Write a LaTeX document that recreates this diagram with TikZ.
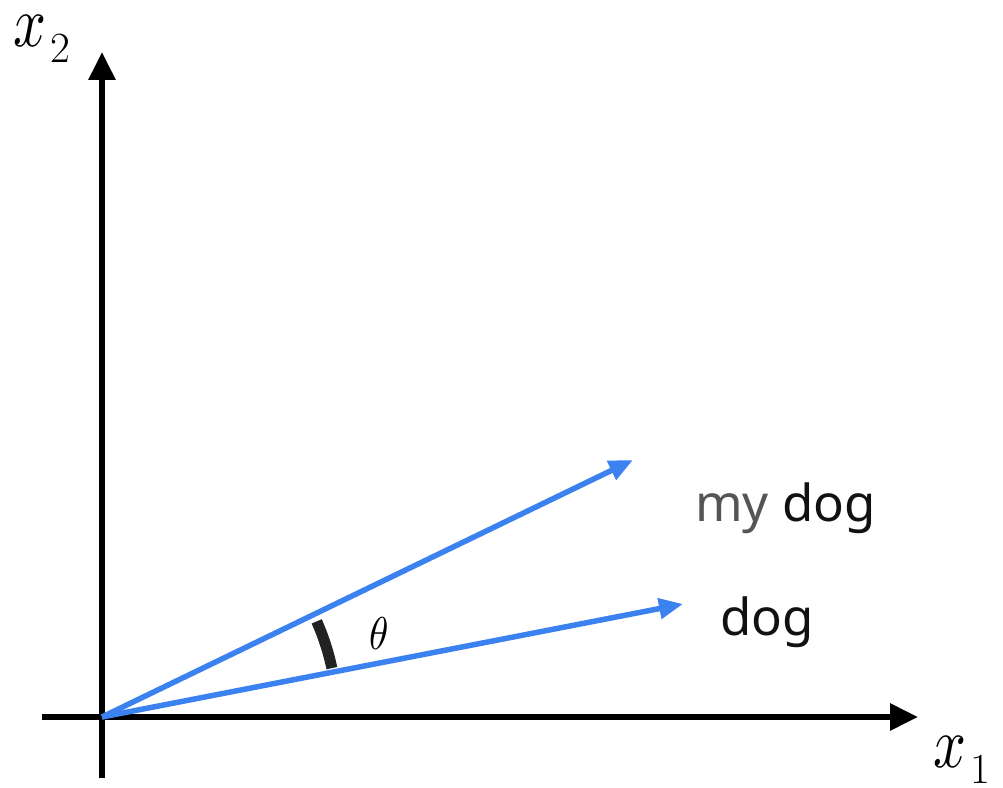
\documentclass[tikz,border=0pt]{standalone}
\usepackage{fontspec}
\usepackage{unicode-math}
\setmathfont{Latin Modern Math}
\setsansfont{Noto Sans}
\usetikzlibrary{arrows.meta}
\definecolor{vecblue}{HTML}{3B82F0}
\definecolor{mygray}{HTML}{555555}
\definecolor{txt}{HTML}{111111}
\definecolor{arcc}{HTML}{222222}
\newcommand{\axvar}[1]{\scalebox{0.8}[1]{\fontsize{72}{76}\selectfont$x$}\hspace{4pt}\raisebox{-16pt}{\fontsize{43}{46}\selectfont\rmfamily #1}}
\tikzset{
  axis/.style={line width=6pt, -{Triangle[length=28pt,width=26pt]}},
  vec/.style={vecblue, line width=5.5pt, -{Triangle[length=24pt,width=20pt]}},
  word/.style={font=\sffamily\fontsize{51}{55}\selectfont, inner sep=0pt, anchor=base west, text=txt},
  axlabel/.style={inner sep=0pt, anchor=base west},
}
\begin{document}
\begin{tikzpicture}[x=1pt,y=1pt]
\useasboundingbox (0,0) rectangle (1003,787);
\coordinate (O) at (102,70);
\coordinate (xs) at (42,70);
\coordinate (xe) at (918,70);
\coordinate (ys) at (102,9);
\coordinate (ye) at (102,735);
\coordinate (md) at (633,327);
\coordinate (dg) at (683,183);
\draw[axis] (xs) -- (xe);
\draw[axis] (ys) -- (ye);
\draw[vec] (O) -- (md);
\draw[vec] (O) -- (dg);
\draw[arcc, line width=11pt] (O) ++(12:235) arc[start angle=12, end angle=24, radius=235];
\node[inner sep=0pt] (th) at (379,153.5) {\scalebox{0.85}[1]{\fontsize{46}{50}\selectfont$\theta$}};
\node[word] (lmd) at (695,265) {\textcolor{mygray}{my} dog};
\node[word] (ldg) at (720,152) {dog};
\node[axlabel] (lx2) at (13,740) {\axvar{2}};
\node[axlabel] (lx1) at (933,20) {\axvar{1}};
\end{tikzpicture}
\end{document}
